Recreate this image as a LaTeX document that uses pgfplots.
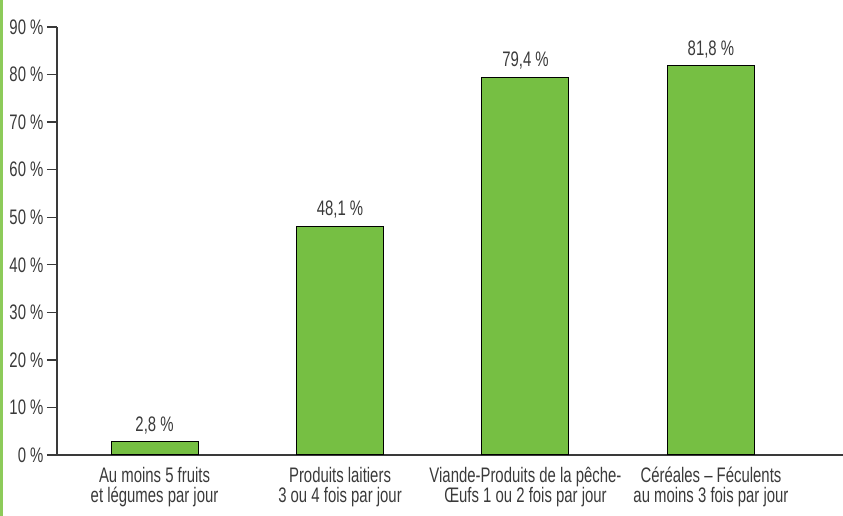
\documentclass[border=0pt]{standalone}
\usepackage{pgfplots}
\pgfplotsset{compat=1.18}
\usepackage{fontspec}
\setmainfont{Liberation Sans}[FakeStretch=0.71]
\definecolor{bargreen}{HTML}{76BF43}
\definecolor{edgegreen}{HTML}{8DCB5A}
\definecolor{axisgray}{HTML}{3A3A3A}
\begin{document}
\begin{tikzpicture}[x=1pt,y=1pt]
\path[use as bounding box] (0,0) rectangle (843,516);
\fill[edgegreen] (0,0) rectangle (2.5,516);
\begin{axis}[
  at={(57pt,61pt)}, anchor=south west,
  scale only axis, width=786pt, height=428pt,
  xmin=-0.526, xmax=3.712, ymin=0, ymax=90,
  axis x line*=bottom, axis y line*=left,
  axis line style={axisgray, line width=1.3pt},
  ytick={0,10,...,90},
  yticklabels={0 \%,10 \%,20 \%,30 \%,40 \%,50 \%,60 \%,70 \%,80 \%,90 \%},
  xtick={0,1,2,3},
  xticklabels={{Au moins 5 fruits\\et légumes par jour},{Produits laitiers\\3 ou 4 fois par jour},{Viande-Produits de la pêche-\\Œufs 1 ou 2 fois par jour},{Céréales – Féculents\\au moins 3 fois par jour}},
  tick align=outside,
  major tick length=10pt,
  every tick/.style={axisgray, line width=1.3pt},
  x tick style={draw=none},
  tick label style={font=\fontsize{21}{20}\selectfont, text=axisgray},
  xticklabel style={align=center, yshift=1pt},
  ybar, bar width=0.469,
  nodes near coords,
  point meta=explicit symbolic,
  nodes near coords style={font=\fontsize{21}{20}\selectfont, text=axisgray, yshift=4pt},
]
\addplot[fill=bargreen, draw=black, line width=1pt] coordinates {
  (0,2.8) [2{,}8 \%]
  (1,48.1) [48{,}1 \%]
  (2,79.4) [79{,}4 \%]
  (3,81.8) [81{,}8 \%]
};
\draw[axisgray, line width=1.3pt] (rel axis cs:0,0) -- ++(0pt,-6pt);
\end{axis}
\end{tikzpicture}
\end{document}
